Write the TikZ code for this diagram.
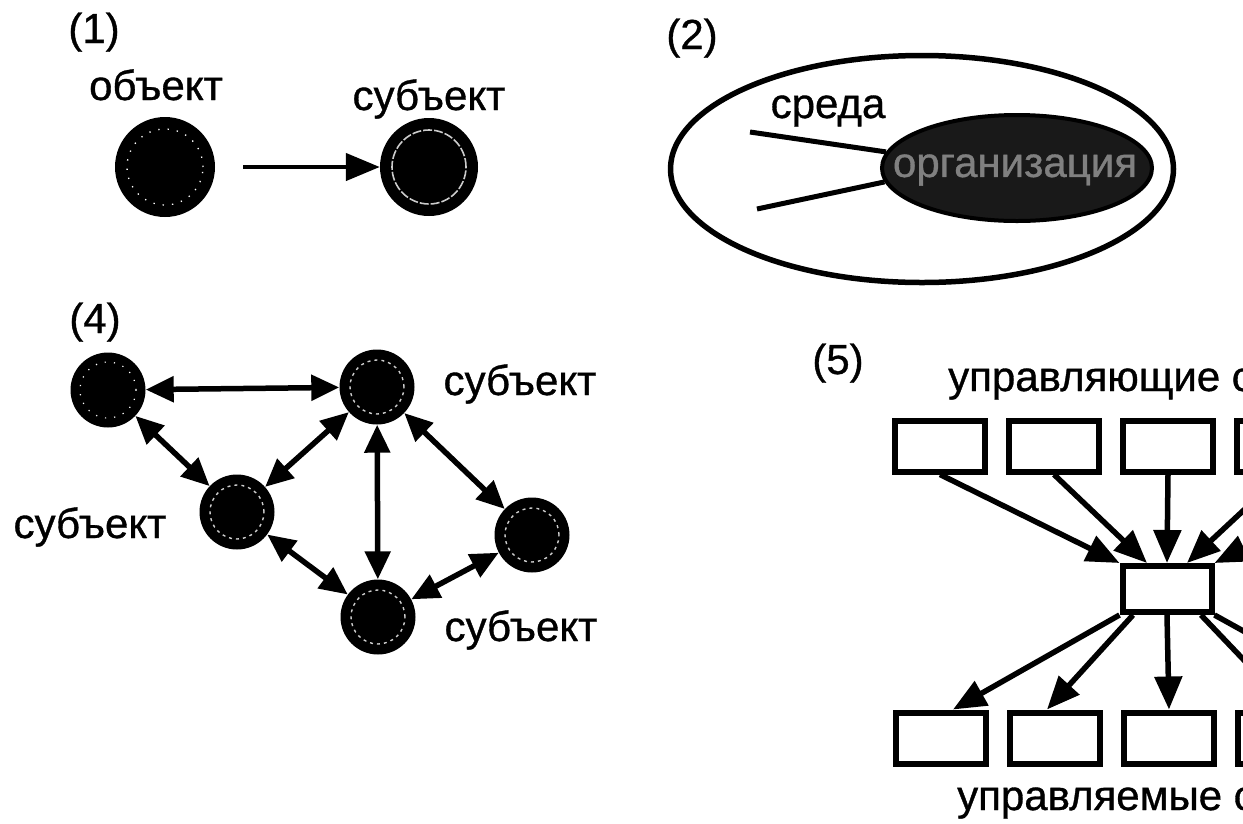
\documentclass[tikz,border=0pt]{standalone}
\usepackage{fontspec}
\setmainfont[FakeBold=1]{Liberation Sans}
\newfontfamily\lblfont[FakeBold=0.8]{Liberation Sans}
\usetikzlibrary{arrows.meta,shapes.geometric}
\begin{document}
\begin{tikzpicture}[x=1pt,y=-1pt,
  lbl/.style={font=\lblfont\fontsize{42}{48}\selectfont, inner sep=0pt, anchor=base},
  bigobj/.style={circle, fill=black, inner sep=0pt, minimum size=100pt,
    path picture={\draw[white, line width=1.3pt, dash pattern=on 1.3pt off 8pt] (path picture bounding box.center) circle (38pt);}},
  bigsub/.style={circle, fill=black, inner sep=0pt, minimum size=98pt,
    path picture={\draw[white!80!black, line width=1.6pt, dash pattern=on 9pt off 2pt] (path picture bounding box.center) circle (37pt);}},
  smallobj/.style={circle, fill=black, inner sep=0pt, minimum size=75pt,
    path picture={\draw[white, line width=1.2pt, dash pattern=on 1.2pt off 8pt] (path picture bounding box.center) circle (28pt);}},
  smallsub/.style={circle, fill=black, inner sep=0pt, minimum size=75pt,
    path picture={\draw[white!80!black, line width=1.4pt, dash pattern=on 3pt off 4pt] (path picture bounding box.center) circle (27pt);}},
  dbl/.style={{Triangle[length=28pt,width=25pt]}-{Triangle[length=28pt,width=25pt]}, line width=5.5pt},
  arr/.style={-{Triangle[length=33pt,width=27pt]}, line width=5.5pt},
  box/.style={draw, line width=6pt, minimum width=90pt, minimum height=51pt, inner sep=0pt}
]
\useasboundingbox (0,0) rectangle (1243,823);
\clip (0,0) rectangle (1243,823);

% ---------- panel 1
\node[lbl] (n1) at (94,43) {(1)};
\node[lbl] (lobj) at (156,100) {объект};
\node[bigobj] (c1) at (165,167) {};
\node[bigsub] (c2) at (429,167) {};
\node[lbl] (lsub1) at (429,110) {субъект};
\draw[line width=4.5pt, -{Triangle[length=34pt,width=27pt]}] ([xshift=28pt]c1.east) -- (c2.west);

% ---------- panel 2
\node[lbl] (n2) at (692,49) {(2)};
\node[ellipse, draw, line width=5.5pt, minimum width=503pt, minimum height=227pt, inner sep=0pt] (env) at (922,169) {};
\node[ellipse, draw, fill=black!90, line width=4pt, minimum width=270pt, minimum height=106pt, inner sep=0pt] (org) at (1017,168) {};
\node[lbl, anchor=center, text=black!50] (orgt) at (1015,170) {организация};
\node[lbl] (lenv) at (828,118) {среда};
\coordinate (e1) at (750,132);
\coordinate (e2) at (757,209);
\draw[line width=5pt] (e1) -- (org.173);
\draw[line width=5pt] (e2) -- (org.186);

% ---------- panel 4
\node[lbl] (n4) at (95,333) {(4)};
\node[smallobj] (A) at (108,390) {};
\node[smallsub] (B) at (377,387) {};
\node[smallsub] (C) at (237,512) {};
\node[smallsub] (D) at (532,535) {};
\node[smallsub] (E) at (378,617) {};
\node[lbl] (lB) at (520,395) {субъект};
\node[lbl] (lC) at (90,538) {субъект};
\node[lbl] (lE) at (521,641) {субъект};
\draw[dbl] (A) -- (B);
\draw[dbl] (A) -- (C);
\draw[dbl] (C) -- (B);
\draw[dbl] (B) -- (E);
\draw[dbl] (B) -- (D);
\draw[dbl] (C) -- (E);
\draw[dbl] (E) -- (D);

% ---------- panel 5
\node[lbl] (n5) at (838,374) {(5)};
\node[lbl, anchor=base west] (ltop) at (948,391) {управляющие субъекты};
\node[lbl, anchor=base west] (lbot) at (957,810) {управляемые субъекты};
\node[box] (t1) at (940,446) {};
\node[box] (t2) at (1054,446) {};
\node[box] (t3) at (1168,446) {};
\node[box] (t4) at (1282,446) {};
\node[box] (t5) at (1396,446) {};
\node[box, minimum width=89pt, minimum height=46pt] (m) at (1167,589) {};
\node[box] (b1) at (941,738) {};
\node[box] (b2) at (1055,738) {};
\node[box] (b3) at (1169,738) {};
\node[box] (b4) at (1283,738) {};
\node[box] (b5) at (1397,738) {};
\draw[arr] (t1.south) -- (m.north west);
\draw[arr] (t2.south) -- ([xshift=-20pt]m.north);
\draw[arr] (t3.south) -- (m.north);
\draw[arr] (t4.south) -- ([xshift=20pt]m.north);
\draw[arr] (t5.south) -- (m.north east);
\draw[arr] (m.south west) -- ([xshift=12pt]b1.north);
\draw[arr] ([xshift=-34pt]m.south) -- ([xshift=-8pt]b2.north);
\draw[arr] (m.south) -- (b3.north);
\draw[arr] ([xshift=34pt]m.south) -- ([xshift=8pt]b4.north);
\draw[arr] (m.south east) -- ([xshift=-12pt]b5.north);
\end{tikzpicture}
\end{document}
